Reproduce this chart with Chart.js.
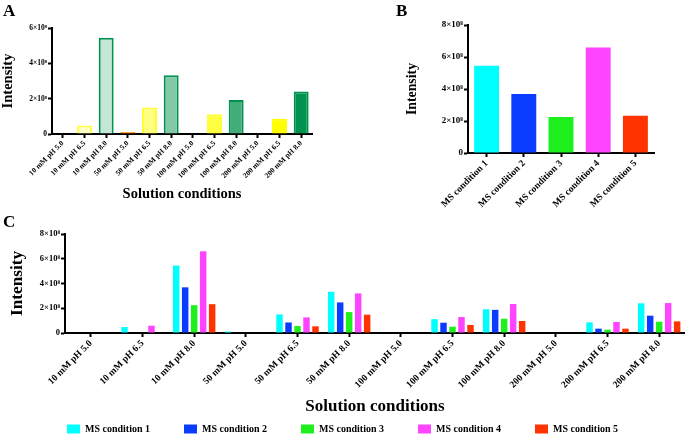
<!DOCTYPE html>
<html>
<head>
<meta charset="utf-8">
<script src="https://cdn.jsdelivr.net/npm/chart.js@4.4.1/dist/chart.umd.min.js"></script>
<style>
  html, body { margin: 0; padding: 0; background: #fff; overflow: hidden; }
  body { width: 685px; height: 436px; position: relative; }
  canvas { position: absolute; }
  .panel { position: absolute; font: bold 17px 'Liberation Serif', serif; line-height: 17px; color: #000; }
</style>
</head>
<body>
<canvas id="chartA" width="335" height="210" style="left:0;top:0;width:335px;height:210px"></canvas>
<canvas id="chartB" width="285" height="210" style="left:400px;top:0;width:285px;height:210px"></canvas>
<canvas id="chartC" width="685" height="234" style="left:0;top:210px;width:685px;height:234px"></canvas>
<div class="panel" style="left:3px;top:2px">A</div>
<div class="panel" style="left:396px;top:2px">B</div>
<div class="panel" style="left:3px;top:213px">C</div>
<script>
// solution conditions (x categories of A and C)
const solutionLabels = [
  '10 mM pH 5.0', '10 mM pH 6.5', '10 mM pH 8.0',
  '50 mM pH 5.0', '50 mM pH 6.5', '50 mM pH 8.0',
  '100 mM pH 5.0', '100 mM pH 6.5', '100 mM pH 8.0',
  '200 mM pH 5.0', '200 mM pH 6.5', '200 mM pH 8.0'
];
const msLabels = ['MS condition 1', 'MS condition 2', 'MS condition 3', 'MS condition 4', 'MS condition 5'];

// intensities, in units of 1e8
const ms1 = [0, 0.48, 5.45, 0.12, 1.5, 3.33, 0, 1.12, 1.92, 0, 0.86, 2.4];
const ms2 = [0, 0, 3.69, 0, 0.85, 2.47, 0, 0.83, 1.87, 0, 0.35, 1.4];
const ms3 = [0, 0, 2.25, 0, 0.56, 1.69, 0, 0.51, 1.15, 0, 0.27, 0.91];
const ms4 = [0, 0.59, 6.6, 0, 1.26, 3.2, 0.04, 1.29, 2.34, 0, 0.89, 2.42];
const ms5 = [0, 0, 2.33, 0, 0.54, 1.48, 0, 0.65, 0.97, 0.04, 0.35, 0.94];

// panel A: MS condition 1 across solutions
const aValues = ms1;
// panel B: 10 mM pH 8.0 across MS conditions
const bValues = [5.45, 3.69, 2.25, 6.6, 2.33];

const yTicksA = [0, 2, 4, 6];
const yTicksBC = [0, 2, 4, 6, 8];

const aFill = ['#FF9900', '#FFFFC6', '#C3E6D5', '#FF9900', '#FFFF80', '#83C9A6',
               '#FF9900', '#FFFF40', '#42AD79', '#FF9900', '#FFFF00', '#00924F'];
const aBorder = ['#FF8C1A', '#FFFF44', '#00924F', '#FF8C1A', '#FFFF33', '#00924F',
                 '#FF8C1A', '#FFFF33', '#00924F', '#FF8C1A', '#FFFF00', '#00924F'];
const msColors = ['#00FFFF', '#0A3CFF', '#1EF01E', '#FF44FF', '#FF3300'];

Chart.defaults.font.family = "'Liberation Serif', 'Times New Roman', serif";
Chart.defaults.font.weight = 'bold';
Chart.defaults.color = '#000';
Chart.defaults.animation = false;
Chart.defaults.plugins.tooltip.enabled = false;

const toE8 = arr => arr.map(v => v * 1e8);

function sciLabel(v) {
  return v === 0 ? '0' : (v / 1e8) + '×10⁸';
}

function yAxis(tickVals, tickSize, titleSize, titleTop, width) {
  return {
    min: 0,
    max: tickVals[tickVals.length - 1] * 1e8,
    afterBuildTicks: s => { s.ticks = tickVals.map(v => ({ value: v * 1e8 })); },
    ticks: { padding: 1, font: { size: tickSize }, callback: sciLabel },
    grid: { drawOnChartArea: false, tickLength: 4, tickWidth: 2, tickColor: '#000' },
    border: { color: '#000', width: 2 },
    title: { display: true, text: 'Intensity', font: { size: titleSize }, padding: { top: titleTop, bottom: 0 } },
    afterFit: s => { s.width = width; }
  };
}

function xAxis(labelSize, height, title) {
  return {
    ticks: { autoSkip: false, maxRotation: 45, minRotation: 45, padding: 1, font: { size: labelSize } },
    grid: { drawOnChartArea: false, offset: false, tickLength: 4, tickWidth: 2, tickColor: '#000' },
    border: { color: '#000', width: 2 },
    title: title,
    afterFit: s => { s.height = height; }
  };
}

new Chart(document.getElementById('chartA'), {
  type: 'bar',
  data: {
    labels: solutionLabels,
    datasets: [{
      data: toE8(aValues),
      backgroundColor: aFill,
      borderColor: aBorder,
      borderWidth: 2,
      barPercentage: 0.69,
      categoryPercentage: 1
    }]
  },
  options: {
    responsive: false,
    layout: { padding: { left: 0, top: 28, right: 23, bottom: 0 } },
    plugins: { legend: { display: false } },
    scales: {
      x: xAxis(7.5, 76, { display: true, text: 'Solution conditions', font: { size: 14.5 }, padding: { top: 0, bottom: 7 } }),
      y: yAxis(yTicksA, 7.5, 14.5, 0, 52)
    }
  }
});

new Chart(document.getElementById('chartB'), {
  type: 'bar',
  data: {
    labels: msLabels,
    datasets: [{
      data: toE8(bValues),
      backgroundColor: msColors,
      borderWidth: 0,
      barPercentage: 0.67,
      categoryPercentage: 1
    }]
  },
  options: {
    responsive: false,
    layout: { padding: { left: 0, top: 25, right: 31, bottom: 0 } },
    plugins: { legend: { display: false } },
    scales: {
      x: xAxis(9.5, 57, { display: false }),
      y: yAxis(yTicksBC, 9, 13.8, 3.7, 68)
    }
  }
});

const cSeries = [ms1, ms2, ms3, ms4, ms5];

new Chart(document.getElementById('chartC'), {
  type: 'bar',
  data: {
    labels: solutionLabels,
    datasets: cSeries.map((vals, i) => ({
      label: msLabels[i],
      data: toE8(vals),
      backgroundColor: msColors[i],
      borderWidth: 0,
      barPercentage: 0.72,
      categoryPercentage: 0.87
    }))
  },
  options: {
    responsive: false,
    layout: { padding: { left: 0, top: 24, right: 0, bottom: 0 } },
    plugins: {
      legend: {
        position: 'bottom',
        labels: { boxWidth: 13, boxHeight: 9, padding: 34, font: { size: 10 } }
      }
    },
    scales: {
      x: xAxis(9.5, 57, { display: true, text: 'Solution conditions', font: { size: 17 }, padding: { top: 0, bottom: -27 } }),
      y: yAxis(yTicksBC, 8.5, 17.2, 7.2, 65)
    }
  }
});
</script>
</body>
</html>
